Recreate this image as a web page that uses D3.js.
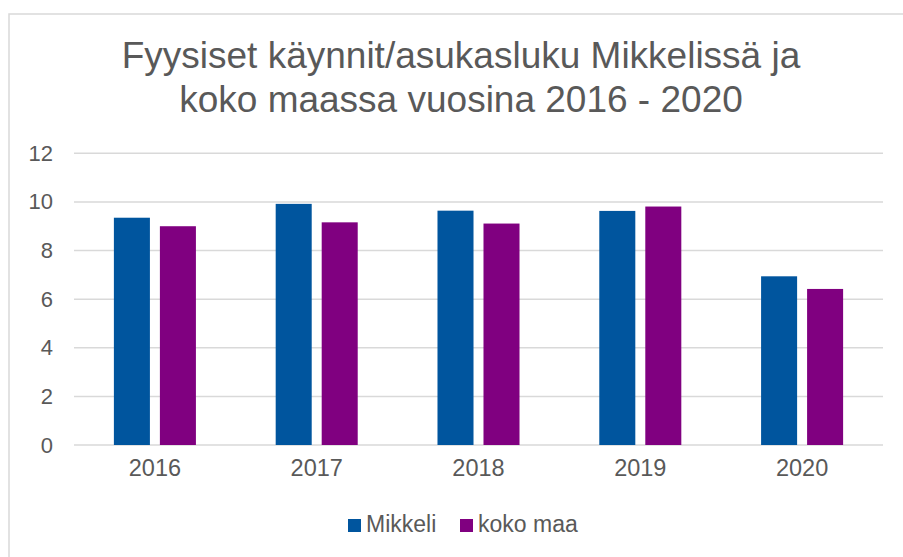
<!DOCTYPE html>
<html>
<meta charset="utf-8">
<style>
  body { margin: 0; background: #fff; }
  text { font-family: "Liberation Sans", Arial, sans-serif; fill: #595959; }
</style>
<script src="https://d3js.org/d3.v7.min.js"></script>
<body>
<script>
  var svgWidth = 903, svgHeight = 557;

  var years = ["2016", "2017", "2018", "2019", "2020"];
  var seriesNames = ["Mikkeli", "koko maa"];
  var mikkeli = [9.35, 9.92, 9.64, 9.63, 6.94];
  var kokoMaa = [9.0, 9.16, 9.11, 9.81, 6.42];
  var yTicks = [0, 2, 4, 6, 8, 10, 12];
  var titleLines = ["Fyysiset käynnit/asukasluku Mikkelissä ja", "koko maassa vuosina 2016 - 2020"];

  var colors = ["#00559e", "#800080"];
  var values = [mikkeli, kokoMaa];

  var svg = d3.select("body").append("svg")
    .attr("width", svgWidth)
    .attr("height", svgHeight);

  // chart frame
  svg.append("rect")
    .attr("x", 9).attr("y", 14)
    .attr("width", 920).attr("height", 600)
    .attr("fill", "none")
    .attr("stroke", "#d9d9d9")
    .attr("stroke-width", 1.5);

  svg.selectAll(".title")
    .data(titleLines)
    .enter().append("text")
    .attr("class", "title")
    .attr("x", 461)
    .attr("y", function(d, i) { return 68 + i * 43.5; })
    .attr("text-anchor", "middle")
    .style("font-size", "37px")
    .text(function(d) { return d; });

  var plotLeft = 74, plotRight = 883, plotTop = 153.3, plotBottom = 445;

  var y = d3.scaleLinear().domain([0, 12]).range([plotBottom, plotTop]);
  var x0 = d3.scaleBand().domain(years).range([plotLeft, plotRight]);
  var x1 = d3.scaleBand().domain(seriesNames).range([0, x0.bandwidth()])
    .paddingInner(0.217).paddingOuter(0.867);

  // gridlines
  svg.selectAll(".grid")
    .data(yTicks)
    .enter().append("line")
    .attr("x1", plotLeft).attr("x2", plotRight)
    .attr("y1", function(d) { return y(d); })
    .attr("y2", function(d) { return y(d); })
    .attr("stroke", "#d9d9d9")
    .attr("stroke-width", 1.5);

  var yAxis = svg.append("g")
    .attr("transform", "translate(" + (plotLeft - 21) + ",0)")
    .call(d3.axisLeft(y).tickValues(yTicks).tickSize(0).tickPadding(0));
  yAxis.select(".domain").remove();
  yAxis.selectAll("text")
    .style("font-size", "22px")
    .style("fill", "#595959")
    .style("font-family", "Liberation Sans, Arial, sans-serif");

  var groups = svg.selectAll(".year")
    .data(years)
    .enter().append("g")
    .attr("transform", function(d) { return "translate(" + x0(d) + ",0)"; });

  groups.selectAll("rect")
    .data(function(d, i) {
      return seriesNames.map(function(s, j) { return { s: s, v: values[j][i], c: colors[j] }; });
    })
    .enter().append("rect")
    .attr("x", function(d) { return x1(d.s); })
    .attr("width", x1.bandwidth())
    .attr("y", function(d) { return y(d.v); })
    .attr("height", function(d) { return plotBottom - y(d.v); })
    .attr("fill", function(d) { return d.c; });

  var xAxis = svg.append("g")
    .attr("transform", "translate(0," + plotBottom + ")")
    .call(d3.axisBottom(x0).tickSize(0).tickPadding(14));
  xAxis.select(".domain").remove();
  xAxis.selectAll("text")
    .style("font-size", "23.5px")
    .style("fill", "#595959")
    .style("font-family", "Liberation Sans, Arial, sans-serif");

  // legend
  var legendX = [348, 460];
  var legend = svg.selectAll(".legend")
    .data(seriesNames)
    .enter().append("g")
    .attr("transform", function(d, i) { return "translate(" + legendX[i] + ",519)"; });
  legend.append("rect")
    .attr("width", 13).attr("height", 13)
    .attr("fill", function(d, i) { return colors[i]; });
  legend.append("text")
    .attr("x", 18).attr("y", 13)
    .style("font-size", "23px")
    .text(function(d) { return d; });
</script>
</body>
</html>
